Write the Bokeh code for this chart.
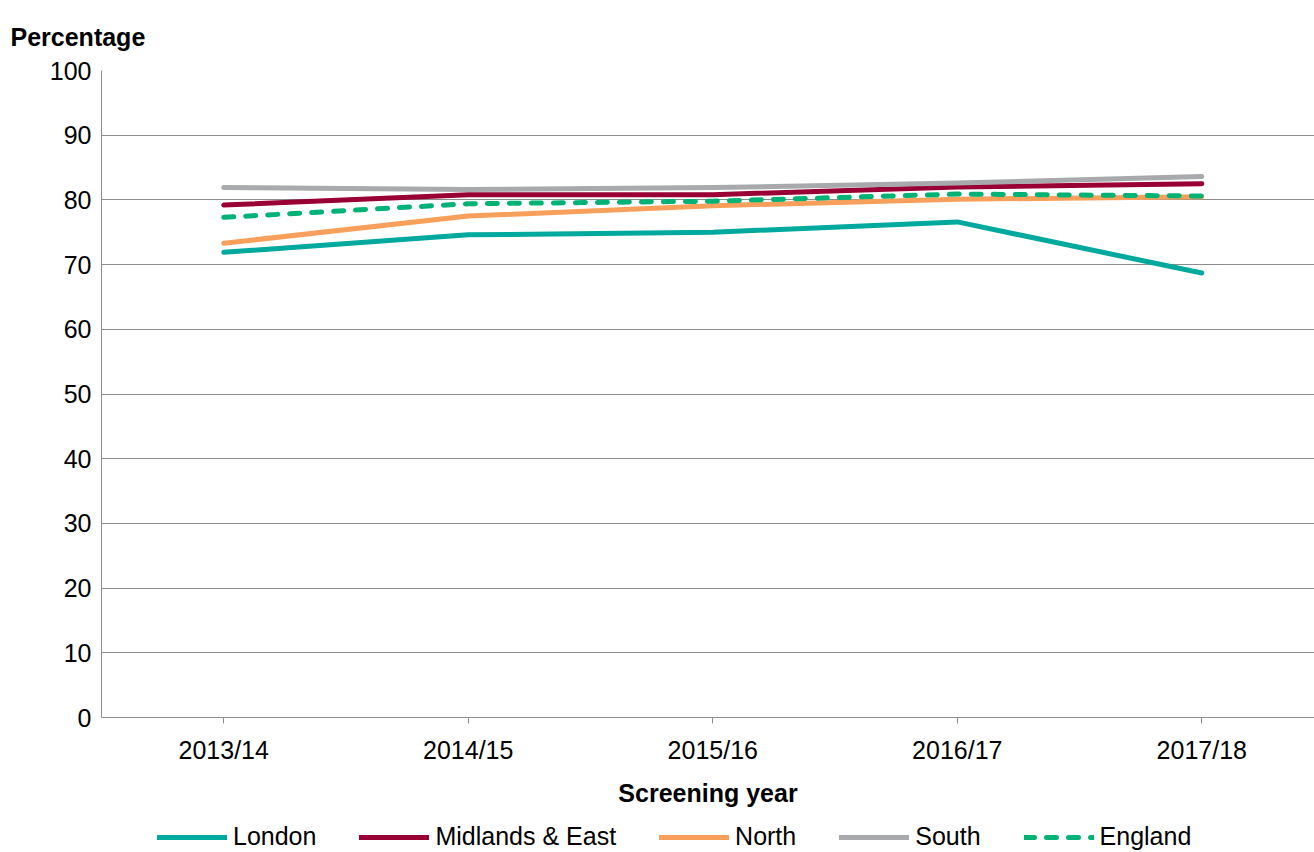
from bokeh.plotting import figure
from bokeh.layouts import column
from bokeh.models import Range1d, FixedTicker, Legend, LegendItem
from bokeh.embed import file_html
from bokeh.resources import INLINE

# Screening years and coverage percentages by region
years = ["2013/14", "2014/15", "2015/16", "2016/17", "2017/18"]
london = [71.9, 74.6, 75.0, 76.6, 68.7]
midlands_east = [79.2, 80.8, 80.8, 82.0, 82.5]
north = [73.3, 77.5, 79.1, 80.1, 80.5]
south = [81.9, 81.6, 81.9, 82.6, 83.6]
england = [77.3, 79.4, 79.8, 80.9, 80.6]

y_ticks = [0, 10, 20, 30, 40, 50, 60, 70, 80, 90, 100]

FONT = "Liberation Sans"
GRID = "#8c8c8c"

xs = list(range(len(years)))

p = figure(
    frame_width=1213, frame_height=647,
    x_range=Range1d(-0.5, 4.461), y_range=Range1d(0, 100),
    output_backend="svg", toolbar_location=None,
    min_border_left=101, min_border_right=0, min_border_top=0,
    min_border_bottom=100,
)
p.background_fill_color = "white"
p.border_fill_color = "white"
p.outline_line_color = None

# Title used as the vertical-axis caption
p.title.text = "Percentage"
p.title.text_font = FONT
p.title.text_font_size = "25px"
p.title.text_font_style = "bold"
p.title.text_color = "black"
p.title.align = "left"
p.title.offset = -91
p.title.standoff = 40

# Axes
p.xaxis.ticker = FixedTicker(ticks=xs)
p.xaxis.major_label_overrides = {i: y for i, y in enumerate(years)}
p.xaxis.axis_label = "Screening year"
p.xaxis.axis_label_text_font = FONT
p.xaxis.axis_label_text_font_size = "25px"
p.xaxis.axis_label_text_font_style = "bold"
p.xaxis.axis_label_text_color = "black"
p.xaxis.axis_label_standoff = 12
p.xaxis.major_label_text_font = FONT
p.xaxis.major_label_text_font_size = "25px"
p.xaxis.major_label_text_color = "black"
p.xaxis.major_label_standoff = 12
p.xaxis.major_tick_out = 6
p.xaxis.major_tick_in = 0
p.xaxis.minor_tick_line_color = None
p.xaxis.axis_line_color = GRID
p.xaxis.major_tick_line_color = GRID

p.yaxis.ticker = FixedTicker(ticks=y_ticks)
p.yaxis.major_label_text_font = FONT
p.yaxis.major_label_text_font_size = "25px"
p.yaxis.major_label_text_color = "black"
p.yaxis.major_label_standoff = 10
p.yaxis.major_tick_out = 0
p.yaxis.major_tick_in = 0
p.yaxis.minor_tick_line_color = None
p.yaxis.axis_line_color = GRID

p.xgrid.grid_line_color = None
p.ygrid.grid_line_color = GRID
p.ygrid.grid_line_width = 1

series = [
    ("London", london, "#00a99d", None),
    ("Midlands & East", midlands_east, "#990033", None),
    ("North", north, "#f8a05b", None),
    ("South", south, "#a7a9ac", None),
    ("England", england, "#00b274", "10 12"),
]


def line_style(color, dash):
    kw = dict(line_color=color, line_width=5, line_cap="round", line_join="round")
    if dash:
        kw["line_dash"] = dash
    return kw


for name, vals, color, dash in series:
    p.line(xs, vals, **line_style(color, dash))

# Legend strip beneath the chart: same series, with a view range that keeps
# the lines themselves out of sight so only the legend entries show
leg = figure(
    width=1314, height=34,
    x_range=Range1d(0, 1), y_range=Range1d(0, 1),
    output_backend="svg", toolbar_location=None,
    min_border=0,
)
leg.axis.visible = False
leg.grid.visible = False
leg.outline_line_color = None
leg.background_fill_color = "white"
leg.border_fill_color = "white"

items = []
for name, vals, color, dash in series:
    r = leg.line(xs, vals, **line_style(color, dash))
    items.append(LegendItem(label=name, renderers=[r]))

legend = Legend(
    items=items, orientation="horizontal",
    glyph_width=70, glyph_height=16, label_standoff=6, spacing=43,
    label_text_font=FONT, label_text_font_size="25px", label_text_color="black",
    border_line_color=None, background_fill_alpha=0,
    padding=0, margin=0, location=(56, 0),
)
leg.add_layout(legend)

open("out.html", "w").write(file_html(column(p, leg, spacing=0), INLINE))
